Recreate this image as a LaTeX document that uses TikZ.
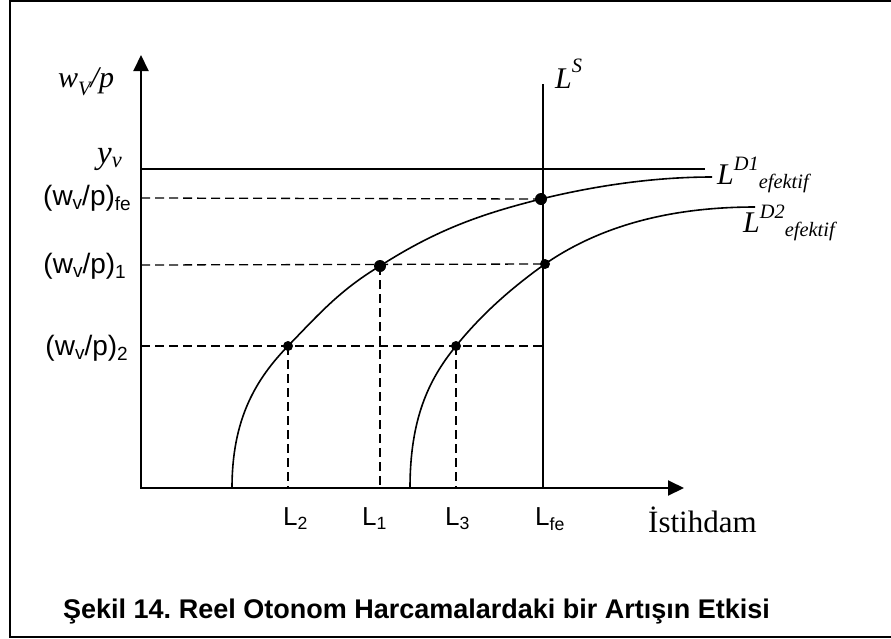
\documentclass[tikz,border=0pt]{standalone}
\usepackage{fontspec}
\setmainfont{Liberation Serif}
\newfontfamily\arialfont{Liberation Sans}
\usetikzlibrary{arrows.meta}
\frenchspacing
\newcommand{\dnbox}[2]{\raisebox{#1}{\scalebox{0.68}{#2}}}
\tikzset{
  axis/.style={line width=2pt,-{Triangle[length=16pt,width=15pt]}},
  curve/.style={line width=1.6pt},
  guide/.style={line width=1.3pt,dash pattern=on 9pt off 5pt},
  dot/.style={circle,fill=black,inner sep=0pt,minimum size=10pt},
  serlab/.style={inner sep=0pt,font=\fontsize{30}{32}\selectfont\itshape},
  arlab/.style={inner sep=0pt,font=\arialfont\fontsize{28}{31}\selectfont},
  xlab/.style={inner sep=0pt,font=\arialfont\fontsize{26}{28}\selectfont}
}
\begin{document}
\begin{tikzpicture}[x=1pt,y=-1pt]
\useasboundingbox (0,0) rectangle (891,638);
% frame
\draw[line width=2pt] (895,1)--(10,1)--(10,637)--(895,637);
% axes
\coordinate (O) at (141,488);
\coordinate (ytop) at (141,55);
\coordinate (xend) at (684,488);
\draw[axis] (O)--(ytop);
\draw[axis] (140,488)--(xend);
% y_v line and L^S
\coordinate (yv0) at (141,169); \coordinate (yv1) at (705,169);
\draw[line width=2pt] (yv0)--(yv1);
\coordinate (ls0) at (543,84); \coordinate (ls1) at (543,488);
\draw[line width=1.6pt] (ls0)--(ls1);
% points
\node[dot,minimum size=12pt] (A) at (541,199) {};
\node[dot,minimum size=12pt] (B) at (380,266) {};
\node[dot] (C) at (288,346) {};
\node[dot] (D) at (545,264) {};
\node[dot] (E) at (456,346) {};
% demand curves
\draw[curve] (232,488) .. controls (232,420) and (255,380) .. (C.center)
  .. controls (319,314) and (340,290) .. (B.center)
  .. controls (436,230) and (481,214) .. (A.center)
  .. controls (590,187) and (650,177) .. (712,177);
\draw[curve] (410,488) .. controls (410,420) and (428,380) .. (E.center)
  .. controls (481,315) and (510,289) .. (D.center)
  .. controls (600,226) and (670,207) .. (755,207);
% dashed guides
\draw[guide] (141,198)--(A.center);
\draw[guide] (141,265)--(D.center);
\draw[guide] (141,346)--(543,346);
\foreach \p in {B,C,E}{\draw[guide] (\p.center)--(\p.center|-O);}
% y labels
\node[serlab,anchor=base west] (wlab) at (58,87) {w\dnbox{-8pt}{V}/p};
\node[serlab,anchor=base west,font=\fontsize{33}{35}\selectfont\itshape] (yvlab) at (97,163) {y\dnbox{-4pt}{v}};
\node[arlab,anchor=east] (wfe) at (131,198) {(w\dnbox{-4pt}{v}/p)\dnbox{-5pt}{fe}};
\node[arlab,anchor=east] (w1) at (126,266) {(w\dnbox{-4pt}{v}/p)\dnbox{-5pt}{1}};
\node[arlab,anchor=east] (w2) at (128,348) {(w\dnbox{-4pt}{v}/p)\dnbox{-5pt}{2}};
% x labels
\node[xlab,anchor=base west] (l2) at (283,525) {L\dnbox{-4pt}{2}};
\node[xlab,anchor=base west] (l1) at (362,525) {L\dnbox{-4pt}{1}};
\node[xlab,anchor=base west] (l3) at (445,525) {L\dnbox{-4pt}{3}};
\node[xlab,anchor=base west] (lfe) at (535,525) {L\dnbox{-5pt}{fe}};
\node[inner sep=0pt,anchor=base west,font=\fontsize{31}{33}\selectfont] (ist) at (648,532) {İstihdam};
% curve labels
\node[serlab,anchor=base west] (ls) at (555,88) {L\dnbox{16pt}{S}};
\node[serlab,anchor=base west] (ld1) at (717,184) {L\dnbox{14pt}{D1}\dnbox{-4pt}{efektif}};
\node[serlab,anchor=base west] (ld2) at (743,232) {L\dnbox{14pt}{D2}\dnbox{-4pt}{efektif}};
% caption
\node[inner sep=0pt,anchor=base west,font=\arialfont\bfseries\fontsize{27}{30}\selectfont] (cap) at (63,618) {Şekil 14. Reel Otonom Harcamalardaki bir Artışın Etkisi};
\end{tikzpicture}
\end{document}
